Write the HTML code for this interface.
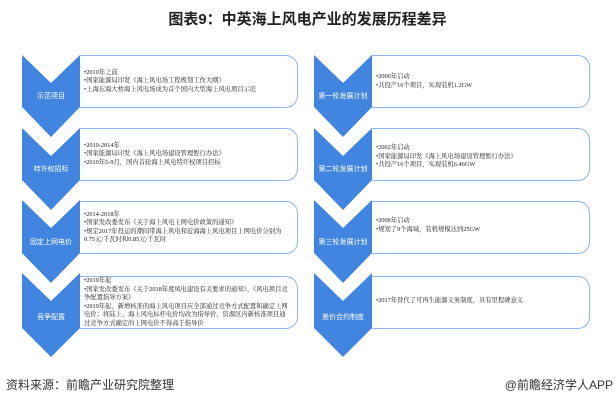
<!DOCTYPE html>
<html><head><meta charset="utf-8"><style>
body{margin:0;width:615px;height:403px;background:#fff;position:relative;overflow:hidden;font-family:"Liberation Sans","Noto Sans CJK SC",sans-serif}
.t{position:absolute;left:0;width:615px;top:8px;text-align:center;font-weight:bold;font-size:15px;color:#222}
.box{position:absolute;border:1.5px solid #8fb4ee;border-left:none;border-radius:0 12px 12px 0;background:#fff;box-sizing:border-box;font-size:6.3px;line-height:8.5px;color:#222;font-family:"Liberation Serif","Noto Serif CJK SC",serif;padding:0 6px 0 4px;display:flex;flex-direction:column;justify-content:center}
.lab{position:absolute;color:#fff;font-size:7px;text-align:center;width:60px}
.f{position:absolute;top:376px;font-size:12px;color:#333}
</style></head><body>
<div class="t">图表9：中英海上风电产业的发展历程差异</div>
<svg width="615" height="403" style="position:absolute;left:0;top:0">
<g fill="#4285e0">
<polygon points="22,55 51,83 80,55 80,107 51,137 22,107"/>
<polygon points="22,128 51,156 80,128 80,180 51,210 22,180"/>
<polygon points="22,200 51,228 80,200 80,253 51,283 22,253"/>
<polygon points="22,273 51,301 80,273 80,328 51,357 22,328"/>
<polygon points="314,55 343,83 372,55 372,107 343,137 314,107"/>
<polygon points="314,128 343,156 372,128 372,180 343,210 314,180"/>
<polygon points="314,200 343,228 372,200 372,253 343,283 314,253"/>
<polygon points="314,273 343,301 372,273 372,328 343,357 314,328"/>
</g></svg>
<div class="lab" style="left:21px;top:91px">示范项目</div>
<div class="lab" style="left:21px;top:164px">特许权招标</div>
<div class="lab" style="left:21px;top:237px">固定上网电价</div>
<div class="lab" style="left:21px;top:312px">竞争配置</div>
<div class="lab" style="left:313px;top:91px">第一轮发展计划</div>
<div class="lab" style="left:313px;top:164px">第二轮发展计划</div>
<div class="lab" style="left:313px;top:237px">第三轮发展计划</div>
<div class="lab" style="left:313px;top:312px">差价合约制度</div>
<div class="box" style="left:80px;top:55px;width:218px;height:53px">•2010年之前<br>•国家能源局印发《海上风电场工程规划工作大纲》<br>•上海东海大桥海上风电场成为首个国内大型海上风电项目示范</div>
<div class="box" style="left:80px;top:128px;width:218px;height:53px">•2010-2014年<br>•国家能源局印发《海上风电场建设管理暂行办法》<br>•2010年5-9月，国内首轮海上风电特许权项目招标</div>
<div class="box" style="left:80px;top:201px;width:218px;height:53px">•2014-2018年<br>•国家发改委发布《关于海上风电上网电价政策的通知》<br>•规定2017年投运的潮间带海上风电和近海海上风电项目上网电价分别为0.75元/千瓦时和0.85元/千瓦时</div>
<div class="box" style="left:80px;top:276px;width:218px;height:53px">•2019年起<br>•国家发改委发布《关于2018年度风电建设有关要求的通知》、《风电项目竞争配置指导方案》<br>•2019年起，新增核准的海上风电项目应全部通过竞争方式配置和确定上网电价；将陆上、海上风电标杆电价均改为指导价，资源区内新核准项目通过竞争方式确定的上网电价不得高于指导价</div>
<div class="box" style="left:372px;top:55px;width:218px;height:53px;justify-content:flex-start;padding-top:17px">•2000年启动<br>•共投产16个项目，实现装机1.2GW</div>
<div class="box" style="left:372px;top:128px;width:218px;height:53px;justify-content:flex-start;padding-top:15px">•2002年启动<br>•国家能源局印发《海上风电场建设管理暂行办法》<br>•共投产16个项目，实现装机6.46GW</div>
<div class="box" style="left:372px;top:201px;width:218px;height:53px;justify-content:flex-start;padding-top:15px">•2008年启动<br>•规划了9个海域，装机规模达到25GW</div>
<div class="box" style="left:372px;top:276px;width:218px;height:53px;justify-content:flex-start;padding-top:20px">•2017年替代了可再生能源义务制度，具有里程碑意义</div>
<div class="f" style="left:6px">资料来源：前瞻产业研究院整理</div>
<div class="f" style="right:2px">@前瞻经济学人APP</div>
</body></html>
